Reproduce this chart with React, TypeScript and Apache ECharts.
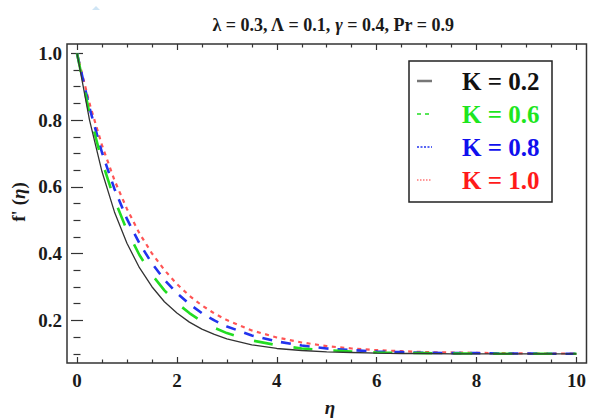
import React, { useEffect, useRef } from "react";
import * as echarts from "echarts";

const eta = [0, 0.25, 0.5, 0.75, 1, 1.25, 1.5, 1.75, 2, 2.25, 2.5, 2.75, 3, 3.5, 4, 4.5, 5, 5.5, 6, 6.5, 7, 7.5, 8, 8.5, 9, 9.5, 10];
const kLabels = ["K = 0.2", "K = 0.6", "K = 0.8", "K = 1.0"];
const fK02 = [1.0, 0.801, 0.646, 0.525, 0.431, 0.358, 0.301, 0.256, 0.222, 0.195, 0.174, 0.158, 0.145, 0.127, 0.116, 0.11, 0.106, 0.104, 0.102, 0.101, 0.101, 0.1, 0.1, 0.1, 0.1, 0.1, 0.1];
const fK06 = [1.0, 0.82, 0.677, 0.562, 0.47, 0.396, 0.337, 0.29, 0.252, 0.222, 0.197, 0.178, 0.162, 0.14, 0.126, 0.116, 0.111, 0.107, 0.104, 0.103, 0.102, 0.101, 0.101, 0.1, 0.1, 0.1, 0.1];
const fK08 = [1.0, 0.837, 0.703, 0.594, 0.504, 0.431, 0.371, 0.322, 0.282, 0.249, 0.222, 0.2, 0.182, 0.155, 0.137, 0.125, 0.116, 0.111, 0.107, 0.105, 0.103, 0.102, 0.102, 0.101, 0.101, 0.1, 0.1];
const fK10 = [1.0, 0.85, 0.725, 0.62, 0.534, 0.461, 0.401, 0.351, 0.309, 0.274, 0.245, 0.221, 0.201, 0.17, 0.149, 0.134, 0.123, 0.116, 0.111, 0.108, 0.105, 0.104, 0.103, 0.102, 0.101, 0.101, 0.101];
const xMajor = [0, 2, 4, 6, 8, 10];
const xMinor = [0.5, 1, 1.5, 2.5, 3, 3.5, 4.5, 5, 5.5, 6.5, 7, 7.5, 8.5, 9, 9.5];
const yMajor = [0.2, 0.4, 0.6, 0.8, 1.0];
const yMinor = [0.1, 0.15, 0.25, 0.3, 0.35, 0.45, 0.5, 0.55, 0.65, 0.7, 0.75, 0.85, 0.9, 0.95];

const FONT = "Liberation Serif";
const FRAME = "#333";

const styles = [
  { color: "#333333", width: 1.3, type: "solid" as any, legendColor: "#777", legendWidth: 2.5, text: "#111" },
  { color: "#22dd22", width: 2.6, type: [19, 21] as any, legendColor: "#22dd22", legendWidth: 1.5, text: "#1ee61e" },
  { color: "#2233ee", width: 2.6, type: [10, 9] as any, legendColor: "#2233ee", legendWidth: 1.5, text: "#1010ee" },
  { color: "#ff5555", width: 2.2, type: [4, 4.5] as any, legendColor: "#ff7777", legendWidth: 1.5, text: "#ff1a1a" },
];
const legendDash = ["solid", [4, 4], [2, 1.5], [1.5, 1.5]];

export default function App() {
  const ref = useRef<HTMLDivElement>(null);
  useEffect(() => {
    if (!ref.current) return;
    const chart = echarts.init(ref.current, undefined, { renderer: "svg" });
    const seriesData = [fK02, fK06, fK08, fK10];
    const tickLine = { lineStyle: { color: FRAME, width: 1.2 } };
    const xBase = { type: "value", min: -0.2, max: 10.2, splitLine: { show: false }, axisLine: { show: false } };
    const yBase = { type: "value", min: 0.0725, max: 1.028, splitLine: { show: false }, axisLine: { show: false } };
    const legendGraphics: any[] = [
      { type: "rect", shape: { x: 409, y: 61, width: 143, height: 141 }, style: { fill: "#fff", stroke: "#222", lineWidth: 1.5 }, z: 100 },
    ];
    const ly = [81, 114, 147, 180];
    kLabels.forEach((lab, i) => {
      legendGraphics.push({
        type: "line",
        shape: { x1: 417, y1: ly[i], x2: 432, y2: ly[i] },
        style: { stroke: styles[i].legendColor, lineWidth: styles[i].legendWidth, lineDash: legendDash[i] },
        z: 101,
      });
      legendGraphics.push({
        type: "text",
        x: 462,
        y: ly[i],
        style: { text: lab, fill: styles[i].text, fontFamily: FONT, fontWeight: "bold", fontSize: 25, verticalAlign: "middle", align: "left" },
        z: 101,
      });
    });
    const rt = (size: number) => ({
      a: { fontFamily: FONT, fontWeight: "bold", fontSize: size, fill: "#1a1a1a" },
      i: { fontFamily: FONT, fontWeight: "bold", fontStyle: "italic", fontSize: size, fill: "#1a1a1a" },
    });
    chart.setOption({
      animation: false,
      backgroundColor: "#fff",
      grid: { left: 67, top: 44, right: -1, bottom: 57, show: true, borderColor: FRAME, borderWidth: 1.5, backgroundColor: "transparent" },
      xAxis: [
        { ...xBase, position: "bottom", axisTick: { inside: true, length: 6, customValues: xMajor, ...tickLine },
          axisLabel: { customValues: xMajor, margin: 8, fontFamily: FONT, fontWeight: "bold", fontSize: 19, color: "#1a1a1a", formatter: (v: number) => String(v) } },
        { ...xBase, position: "bottom", axisTick: { inside: true, length: 3.5, customValues: xMinor, ...tickLine }, axisLabel: { show: false } },
        { ...xBase, position: "top", axisTick: { inside: true, length: 6, customValues: xMajor, ...tickLine }, axisLabel: { show: false } },
        { ...xBase, position: "top", axisTick: { inside: true, length: 3.5, customValues: xMinor, ...tickLine }, axisLabel: { show: false } },
      ],
      yAxis: [
        { ...yBase, position: "left", axisTick: { inside: true, length: 6, customValues: yMajor, ...tickLine },
          axisLabel: { customValues: yMajor, margin: 5, fontFamily: FONT, fontWeight: "bold", fontSize: 19, color: "#1a1a1a", formatter: (v: number) => v.toFixed(1) } },
        { ...yBase, position: "left", axisTick: { inside: true, length: 3.5, customValues: yMinor, ...tickLine }, axisLabel: { show: false } },
        { ...yBase, position: "right", axisTick: { inside: true, length: 6, customValues: yMajor, ...tickLine }, axisLabel: { show: false } },
        { ...yBase, position: "right", axisTick: { inside: true, length: 3.5, customValues: yMinor, ...tickLine }, axisLabel: { show: false } },
      ],
      series: seriesData.map((d, i) => ({
        type: "line",
        name: kLabels[i],
        xAxisIndex: 0,
        yAxisIndex: 0,
        data: eta.map((x, j) => [x, d[j]]),
        showSymbol: false,
        smooth: false,
        lineStyle: { color: styles[i].color, width: styles[i].width, type: styles[i].type },
        z: 10 - i,
      })),
      graphic: [
        { type: "polygon", shape: { points: [[92, 10], [100, 10], [96, 6]] }, style: { fill: "#cfe5f5" } },
        {
          type: "text", x: 333, y: 25,
          style: { text: "{a|λ = 0.3, Λ = 0.1, }{i|γ}{a| = 0.4, Pr = 0.9}", align: "center", verticalAlign: "middle", rich: rt(18) },
        },
        {
          type: "text", x: 18, y: 202, rotation: Math.PI / 2,
          style: { text: "{a|f' (}{i|η}{a|)}", align: "center", verticalAlign: "middle", rich: rt(19) },
        },
        {
          type: "text", x: 330, y: 407,
          style: { text: "η", fontFamily: FONT, fontWeight: "bold", fontStyle: "italic", fontSize: 19, fill: "#1a1a1a", align: "center", verticalAlign: "middle" },
        },
        ...legendGraphics,
      ],
    });
    return () => chart.dispose();
  }, []);
  return <div ref={ref} style={{ position: "absolute", left: 0, top: 0, width: 589, height: 420 }} />;
}
